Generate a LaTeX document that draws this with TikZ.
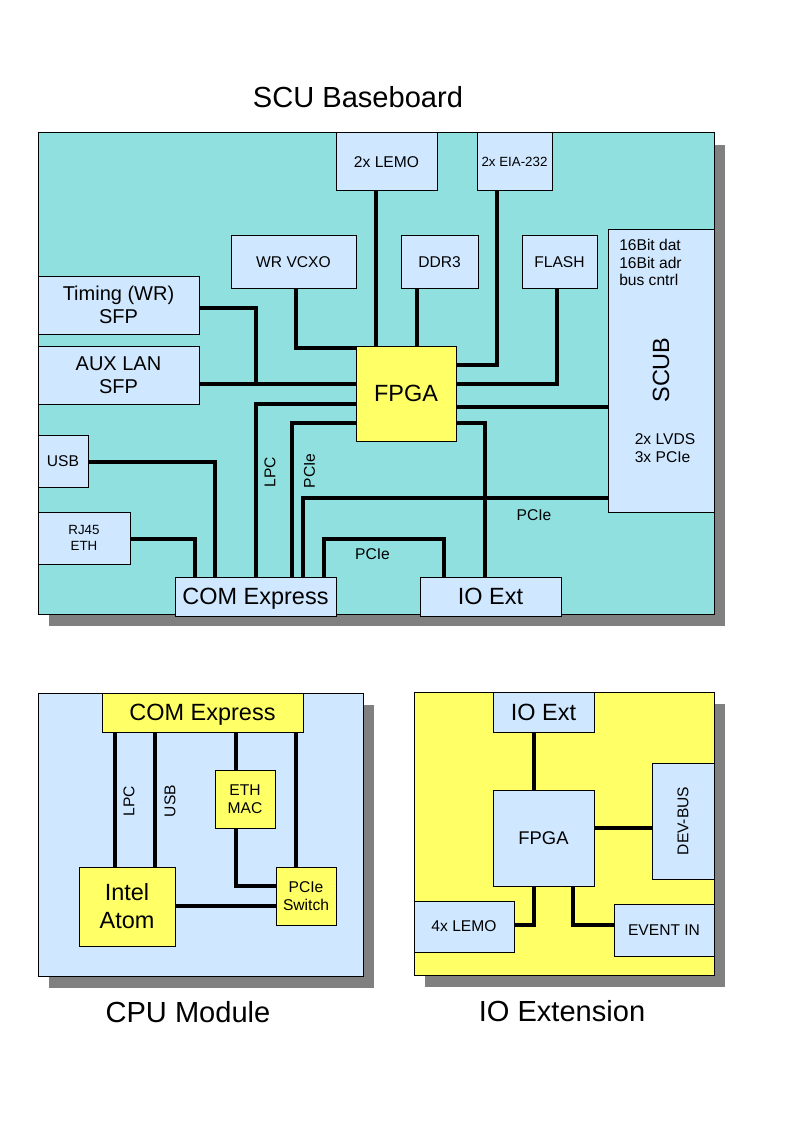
\documentclass[tikz,border=0pt]{standalone}
\usepackage{fontspec}
\setmainfont{Liberation Sans}
\usetikzlibrary{shadows}
\definecolor{boardteal}{RGB}{144,224,224}
\definecolor{partblue}{RGB}{208,232,255}
\definecolor{partyellow}{RGB}{255,255,102}
\definecolor{shadegray}{RGB}{128,128,128}
\newcommand\ftitle{\fontsize{21.8}{26}\selectfont}
\newcommand\fbig{\fontsize{17.6}{21}\selectfont}
\newcommand\fmid{\fontsize{15}{17}\selectfont}
\newcommand\fsmall{\fontsize{11.7}{13.1}\selectfont}
\newcommand\ftiny{\fontsize{10}{12}\selectfont}

\begin{document}
\begin{tikzpicture}
	[x=0.75pt, y=-0.75pt,
	board/.style = {draw, line width=0.75pt, inner sep=0pt,
		drop shadow={shadow xshift=8.25pt, shadow yshift=-9pt, fill=shadegray, opacity=1}},
	part/.style = {draw, line width=0.75pt, fill=partblue, inner sep=0pt,
		align=center, font=\fsmall},
	chip/.style = {part, fill=partyellow},
	sz/.style 2 args = {minimum width=#1*0.75pt, minimum height=#2*0.75pt},
	bus/.style = {line width=3.6pt},
	lbl/.style = {inner sep=0pt, font=\fsmall}]
	\useasboundingbox (0,0) rectangle (794,1123);

	% SCU baseboard
	\node[font=\ftitle] (t1) at (358,97) {SCU Baseboard};
	\node[board, fill=boardteal, sz={676}{481}] (bb) at (376,373.5) {};
	\node[part, sz={101}{58}] (lemo2) at (386.5,162) {2x LEMO};
	\node[part, sz={75}{58}, font=\ftiny] (eia) at (514.5,162) {2x EIA-232};
	\node[part, sz={125}{52}] (vcxo) at (293.5,262) {WR VCXO};
	\node[part, sz={77}{52}] (ddr) at (439.5,262) {DDR3};
	\node[part, sz={75}{52}] (flash) at (559.5,262) {FLASH};
	\node[part, sz={106}{282}] (scub) at (661,371) {};
	\node[part, sz={161}{58}, font=\fmid] (tsfp) at (118.5,305) {Timing (WR)\\SFP};
	\node[part, sz={161}{58}, font=\fmid] (aux) at (118.5,375) {AUX LAN\\SFP};
	\node[part, sz={50}{52}] (usb) at (63,461) {USB};
	\node[part, sz={92}{52}, font=\ftiny] (rj) at (84,538) {RJ45\\ETH};
	\node[part, sz={161}{39}, font=\fbig, text depth=0pt] (com) at (255.5,596.5) {COM Express};
	\node[part, sz={141}{39}, font=\fbig] (ioext) at (490.5,596.5) {IO Ext};
	\node[chip, sz={100}{95}, font=\fbig] (fpga) at (406,393.5) {FPGA};

	\node[lbl, anchor=north west, align=left] (sbus) at (619,239) {16Bit dat\\16Bit adr\\bus cntrl};
	\node[lbl, font=\fbig, rotate=90] (sname) at (661,370) {SCUB};
	\node[lbl, align=left] (slink) at (665,448) {2x LVDS\\3x PCIe};

	\coordinate (jn) at (256,384);
	\draw[bus] (tsfp.east |- 0,308) -| (jn);
	\draw[bus] (aux.east |- 0,384) -- (fpga.west |- 0,384);
	\draw[bus] (vcxo.south -| 296,0) |- (fpga.west |- 0,348);
	\draw[bus] (lemo2.south -| 376,0) -- (fpga.north -| 376,0);
	\draw[bus] (ddr.south -| 417,0) -- (fpga.north -| 417,0);
	\draw[bus] (eia.south -| 497,0) |- (fpga.east |- 0,365);
	\draw[bus] (flash.south -| 557,0) |- (fpga.east |- 0,384);
	\draw[bus] (fpga.east |- 0,407) -- (scub.west |- 0,407);
	\draw[bus] (fpga.east |- 0,423) -| (ioext.north -| 485,0);
	\draw[bus] (fpga.west |- 0,404) -| (com.north -| 256,0);
	\draw[bus] (fpga.west |- 0,423) -| (com.north -| 292,0);
	\draw[bus] (scub.west |- 0,498) -| (com.north -| 303,0);
	\draw[bus] (com.north -| 324,0) |- (444,539) -- (ioext.north -| 444,0);
	\draw[bus] (usb.east |- 0,462) -| (com.north -| 215,0);
	\draw[bus] (rj.east |- 0,539) -| (com.north -| 195,0);

	\node[lbl, rotate=90] (llpc) at (270,472) {LPC};
	\node[lbl, rotate=90] (lpcie1) at (309.5,471) {PCIe};
	\node[lbl] (lpcie2) at (534,515) {PCIe};
	\node[lbl] (lpcie3) at (372.5,554) {PCIe};

	% CPU module
	\node[font=\ftitle] (t2) at (188,1012) {CPU Module};
	\node[board, fill=partblue, sz={325}{283}] (cpu) at (200.5,834.5) {};
	\node[chip, sz={201}{39}, font=\fbig, text depth=0pt] (ccom) at (202.5,712.5) {COM Express};
	\node[chip, sz={60}{58}] (mac) at (245,799) {ETH\\MAC};
	\node[chip, sz={96}{79}, font=\fbig] (atom) at (127,906.5) {Intel\\Atom};
	\node[chip, sz={60}{58}] (psw) at (306,896) {PCIe\\Switch};

	\draw[bus] (ccom.south -| 115,0) -- (atom.north -| 115,0);
	\draw[bus] (ccom.south -| 155,0) -- (atom.north -| 155,0);
	\draw[bus] (ccom.south -| 236,0) -- (mac.north -| 236,0);
	\draw[bus] (mac.south -| 236,0) |- (psw.west |- 0,886);
	\draw[bus] (ccom.south -| 296,0) -- (psw.north -| 296,0);
	\draw[bus] (atom.east |- 0,906) -- (psw.west |- 0,906);

	\node[lbl, rotate=90] (clpc) at (129,801) {LPC};
	\node[lbl, rotate=90] (cusb) at (170,801) {USB};

	% IO extension
	\node[font=\ftitle] (t3) at (562,1011) {IO Extension};
	\node[board, fill=partyellow, sz={300}{283}] (iob) at (564,833.5) {};
	\node[part, sz={101}{40}, font=\fbig] (xio) at (543.5,712) {IO Ext};
	\node[part, sz={101}{96}, font=\fontsize{13.8}{16}\selectfont] (xfpga) at (543.5,838) {FPGA};
	\node[part, sz={62}{116}] (devbus) at (683,821) {};
	\node[lbl, rotate=90] (ldev) at (683,821) {DEV-BUS};
	\node[part, sz={100}{51}] (lemo4) at (464,926.5) {4x LEMO};
	\node[part, sz={100}{52}] (evin) at (664,930) {EVENT IN};

	\draw[bus] (xio.south -| 534,0) -- (xfpga.north -| 534,0);
	\draw[bus] (xfpga.east |- 0,828) -- (devbus.west |- 0,828);
	\draw[bus] (xfpga.south -| 534,0) |- (lemo4.east |- 0,925);
	\draw[bus] (xfpga.south -| 573,0) |- (evin.west |- 0,925);
\end{tikzpicture}
\end{document}
